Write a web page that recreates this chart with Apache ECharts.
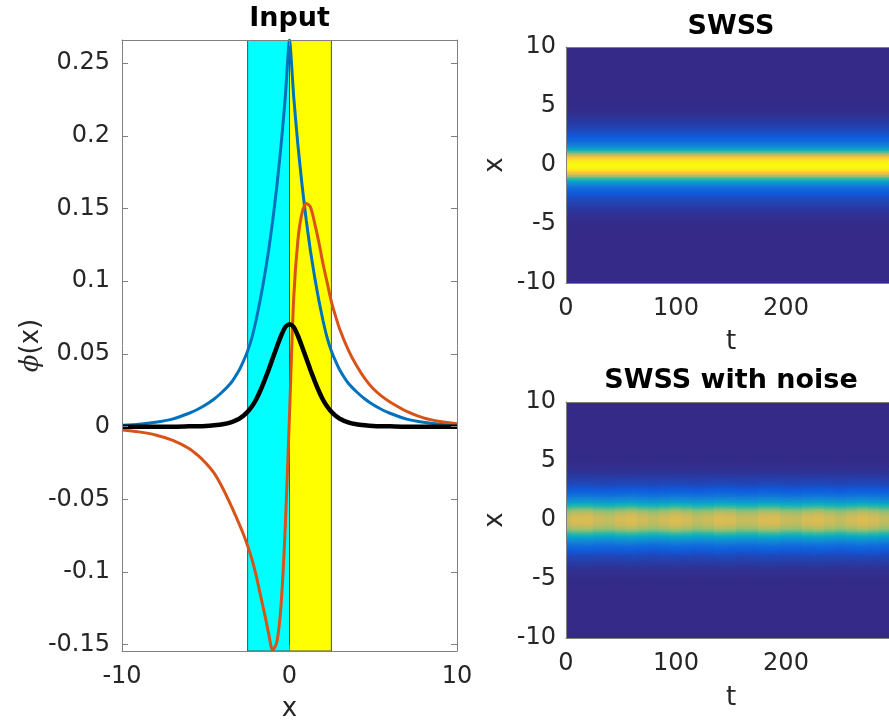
<!DOCTYPE html>
<html>
<head>
<meta charset="utf-8">
<script src="https://cdn.jsdelivr.net/npm/echarts@6/dist/echarts.min.js"></script>
<style>
html,body{margin:0;padding:0;background:#fff;}
#chart{width:889px;height:725px;}
</style>
</head>
<body>
<div id="chart"></div>
<script>
// ---------- Left panel: Input ----------
const xs = [-10,-9,-8,-7,-6,-5.5,-5,-4.5,-4,-3.5,-3,-2.75,-2.5,-2.25,-2,-1.75,-1.5,-1.25,-1,-0.75,-0.5,-0.25,0,0.25,0.5,0.75,1,1.25,1.5,1.75,2,2.25,2.5,2.75,3,3.5,4,4.5,5,5.5,6,7,8,9,10];
const blueVals = [0.001,0.0017,0.003,0.0052,0.0092,0.0118,0.015,0.019,0.024,0.030,0.039,0.045,0.052,0.061,0.073,0.087,0.103,0.121,0.142,0.166,0.194,0.227,0.2659,0.227,0.194,0.166,0.142,0.121,0.103,0.087,0.073,0.061,0.052,0.045,0.039,0.030,0.024,0.019,0.015,0.0118,0.0092,0.0052,0.003,0.0017,0.001];
const redVals = [-0.0023,-0.0036,-0.0057,-0.0093,-0.015,-0.0195,-0.025,-0.032,-0.042,-0.054,-0.067,-0.074,-0.082,-0.091,-0.102,-0.115,-0.128,-0.142,-0.1536,-0.148,-0.122,-0.068,0.008,0.088,0.128,0.147,0.1535,0.151,0.140,0.127,0.112,0.099,0.086,0.076,0.067,0.053,0.042,0.033,0.026,0.021,0.017,0.0105,0.006,0.0035,0.002];
const blackVals = [0,0,0,0,0.0002,0.0003,0.0005,0.001,0.0017,0.003,0.0055,0.0075,0.0102,0.0138,0.0185,0.0245,0.0315,0.039,0.047,0.055,0.0625,0.0685,0.0705,0.0685,0.0625,0.055,0.047,0.039,0.0315,0.0245,0.0185,0.0138,0.0102,0.0075,0.0055,0.003,0.0017,0.001,0.0005,0.0003,0.0002,0,0,0,0];
const inputYTicks = [-0.15,-0.1,-0.05,0,0.05,0.1,0.15,0.2,0.25];
const inputXTicks = [-10,0,10];
const inputYRange = [-0.1543, 0.2659];
const regionStarts = [-2.5, 0];
const regionEnds = [0, 2.5];

// ---------- Right panels: heatmaps ----------
const heatX = [-10,-7,-6,-5,-4.5,-4,-3.5,-3,-2.75,-2.5,-2.25,-2,-1.75,-1.5,-1.25,-1,-0.75,-0.5,-0.25,0,0.25,0.5,0.75,1,1.25,1.5,1.75,2,2.25,2.5,2.75,3,3.5,4,4.5,5,6,7,10];
const swssProfile = [0,0,0.001,0.004,0.01,0.025,0.045,0.072,0.09,0.11,0.135,0.17,0.23,0.31,0.45,0.62,0.80,0.92,0.98,1.0,0.98,0.92,0.80,0.62,0.45,0.31,0.23,0.17,0.135,0.11,0.09,0.072,0.045,0.025,0.01,0.004,0.001,0,0];
const noiseProfile = [0,0,0.001,0.004,0.01,0.025,0.05,0.08,0.105,0.135,0.17,0.22,0.29,0.37,0.47,0.58,0.68,0.74,0.77,0.78,0.77,0.74,0.68,0.58,0.47,0.37,0.29,0.22,0.17,0.135,0.105,0.08,0.05,0.025,0.01,0.004,0.001,0,0];
const tGrid = [0,10,20,30,40,50,60,70,80,90,100,110,120,130,140,150,160,170,180,190,200,210,220,230,240,250,260,270,280,290,300];
const noiseMod = [0.94,0.987,0.994,0.948,0.933,0.976,0.999,0.96,0.93,0.964,1.0,0.972,0.931,0.952,0.996,0.984,0.937,0.941,0.988,0.993,0.946,0.934,0.978,0.998,0.958,0.93,0.967,1.0,0.972,0.931,0.951];
const tRange = [0, 300];
const tTicks = [0, 100, 200];
const xRange = [-10, 10];

// ---------- styles ----------
const FONT = 'DejaVu Sans';
const TXT = '#262626';
const AX = '#808080';
const parulaStops = ['#352a87','#0f5cdd','#1481d6','#06a4ca','#2eb7a4','#87bf77','#d1bb59','#fec832','#f9fb0e'];

function hex2rgb(h){return [parseInt(h.slice(1,3),16),parseInt(h.slice(3,5),16),parseInt(h.slice(5,7),16)];}
const parulaRGB = parulaStops.map(hex2rgb);
function parula(v){
  v = Math.max(0, Math.min(1, v));
  const n = parulaRGB.length - 1;
  const p = v * n;
  const i = Math.min(n - 1, Math.floor(p));
  const f = p - i;
  const a = parulaRGB[i], b = parulaRGB[i+1];
  return 'rgb(' + [0,1,2].map(k => Math.round(a[k] + (b[k]-a[k])*f)).join(',') + ')';
}

// heat cell data
const swssData = [];
for (let i = 0; i < heatX.length - 1; i++) {
  swssData.push([tRange[0], tRange[1], heatX[i], heatX[i+1], swssProfile[i], swssProfile[i+1]]);
}
const noiseData = [];
for (let j = 0; j < tGrid.length; j++) {
  const t0 = Math.max(tRange[0], tGrid[j] - 5), t1 = Math.min(tRange[1], tGrid[j] + 5);
  for (let i = 0; i < heatX.length - 1; i++) {
    noiseData.push([t0, t1, heatX[i], heatX[i+1], noiseProfile[i]*noiseMod[j], noiseProfile[i+1]*noiseMod[j]]);
  }
}

function renderHeat(params, api){
  const t0 = api.value(0), t1 = api.value(1), x0 = api.value(2), x1 = api.value(3);
  const v0 = api.value(4), v1 = api.value(5);
  const pTL = api.coord([t0, x1]);
  const pBR = api.coord([t1, x0]);
  const stops = [];
  for (let k = 0; k <= 6; k++) {
    const f = k / 6;
    stops.push({offset: f, color: parula(v1 + (v0 - v1) * f)});
  }
  const x = Math.floor(pTL[0]);
  const w = Math.ceil(pBR[0]) - x + 1;
  return {
    type: 'rect',
    shape: {x: x, y: pTL[1] - 0.5, width: w, height: pBR[1] - pTL[1] + 1},
    style: {fill: new echarts.graphic.LinearGradient(0, 0, 0, 1, stops)}
  };
}

function renderRegion(params, api){
  const x0 = api.value(0), x1 = api.value(1);
  const pTL = api.coord([x0, inputYRange[1]]);
  const pBR = api.coord([x1, inputYRange[0]]);
  return {
    type: 'rect',
    shape: {x: pTL[0], y: pTL[1], width: pBR[0] - pTL[0], height: pBR[1] - pTL[1]},
    style: {fill: params.dataIndex === 0 ? '#00ffff' : '#ffff00', stroke: '#4d4d4d', lineWidth: 1}
  };
}

const labelStyle = {color: TXT, fontFamily: FONT, fontSize: 24};
const nameStyle = {color: TXT, fontFamily: FONT, fontSize: 26};

function fmt(v){ return String(+(+v).toFixed(2)); }

const chart = echarts.init(document.getElementById('chart'), null, {renderer: 'canvas'});
const option = {
  animation: false,
  backgroundColor: '#ffffff',
  grid: [
    {left: 122, right: 432, top: 40, bottom: 74, outerBoundsMode: 'none', containLabel: false},
    {left: 566, right: -7, top: 47, bottom: 442, outerBoundsMode: 'none', containLabel: false},
    {left: 566, right: -7, top: 402, bottom: 87, outerBoundsMode: 'none', containLabel: false}
  ],
  xAxis: [
    {gridIndex: 0, type: 'value', min: -10, max: 10, interval: 10, position: 'bottom', z: 6,
     name: 'x', nameLocation: 'middle', nameGap: 45, nameTextStyle: nameStyle,
     axisLine: {onZero: false, lineStyle: {color: AX}}, splitLine: {show: false},
     axisTick: {inside: true, length: 6, lineStyle: {color: AX}, customValues: inputXTicks},
     axisLabel: Object.assign({margin: 14, customValues: inputXTicks}, labelStyle)},
    {gridIndex: 0, type: 'value', min: -10, max: 10, interval: 10, position: 'top', z: 6,
     axisLine: {onZero: false, lineStyle: {color: AX}}, splitLine: {show: false},
     axisTick: {inside: true, length: 6, lineStyle: {color: AX}}, axisLabel: {show: false}},
    {gridIndex: 1, type: 'value', min: tRange[0], max: tRange[1], position: 'bottom', z: 5,
     name: 't', nameLocation: 'middle', nameGap: 46, nameTextStyle: nameStyle,
     axisLine: {onZero: false, lineStyle: {color: AX}}, splitLine: {show: false},
     axisTick: {show: false}, axisLabel: Object.assign({margin: 14, customValues: tTicks}, labelStyle)},
    {gridIndex: 1, type: 'value', min: tRange[0], max: tRange[1], position: 'top', z: 5,
     axisLine: {onZero: false, lineStyle: {color: AX}}, splitLine: {show: false},
     axisTick: {show: false}, axisLabel: {show: false}},
    {gridIndex: 2, type: 'value', min: tRange[0], max: tRange[1], position: 'bottom', z: 5,
     name: 't', nameLocation: 'middle', nameGap: 47, nameTextStyle: nameStyle,
     axisLine: {onZero: false, lineStyle: {color: AX}}, splitLine: {show: false},
     axisTick: {show: false}, axisLabel: Object.assign({margin: 14, customValues: tTicks}, labelStyle)},
    {gridIndex: 2, type: 'value', min: tRange[0], max: tRange[1], position: 'top', z: 5,
     axisLine: {onZero: false, lineStyle: {color: AX}}, splitLine: {show: false},
     axisTick: {show: false}, axisLabel: {show: false}}
  ],
  yAxis: [
    {gridIndex: 0, type: 'value', min: inputYRange[0], max: inputYRange[1], position: 'left', z: 6,
     name: '{i|ϕ}(x)', nameLocation: 'middle', nameGap: 78,
     nameTextStyle: Object.assign({rich: {i: {fontFamily: 'DejaVu Serif', fontStyle: 'italic', fontSize: 26, color: TXT}}}, nameStyle),
     axisLine: {onZero: false, lineStyle: {color: AX}}, splitLine: {show: false},
     axisTick: {inside: true, length: 6, lineStyle: {color: AX}, customValues: inputYTicks},
     axisLabel: Object.assign({margin: 12, customValues: inputYTicks, formatter: fmt}, labelStyle)},
    {gridIndex: 0, type: 'value', min: inputYRange[0], max: inputYRange[1], position: 'right', z: 6,
     axisLine: {onZero: false, lineStyle: {color: AX}}, splitLine: {show: false},
     axisTick: {inside: true, length: 6, lineStyle: {color: AX}, customValues: inputYTicks},
     axisLabel: {show: false}},
    {gridIndex: 1, type: 'value', min: xRange[0], max: xRange[1], interval: 5, position: 'left', z: 5,
     name: 'x', nameLocation: 'middle', nameGap: 58, nameTextStyle: nameStyle,
     axisLine: {onZero: false, lineStyle: {color: AX}}, splitLine: {show: false},
     axisTick: {show: false}, axisLabel: Object.assign({margin: 10}, labelStyle)},
    {gridIndex: 2, type: 'value', min: xRange[0], max: xRange[1], interval: 5, position: 'left', z: 5,
     name: 'x', nameLocation: 'middle', nameGap: 58, nameTextStyle: nameStyle,
     axisLine: {onZero: false, lineStyle: {color: AX}}, splitLine: {show: false},
     axisTick: {show: false}, axisLabel: Object.assign({margin: 10}, labelStyle)}
  ],
  graphic: [
    {type: 'text', x: 289.5, y: 19, style: {text: 'Input', font: 'bold 27px "DejaVu Sans"', fill: '#000', align: 'center', verticalAlign: 'middle'}},
    {type: 'text', x: 731, y: 27, style: {text: 'SWSS', font: 'bold 27px "DejaVu Sans"', fill: '#000', align: 'center', verticalAlign: 'middle'}},
    {type: 'text', x: 731, y: 381, style: {text: 'SWSS with noise', font: 'bold 27px "DejaVu Sans"', fill: '#000', align: 'center', verticalAlign: 'middle'}}
  ],
  series: [
    {type: 'custom', xAxisIndex: 0, yAxisIndex: 0, z: 1, clip: true,
     data: regionStarts.map((s, i) => [s, regionEnds[i]]), encode: {x: [0, 1]},
     renderItem: renderRegion, silent: true},
    {type: 'line', xAxisIndex: 0, yAxisIndex: 0, z: 3, data: xs.map((x, i) => [x, blueVals[i]]),
     showSymbol: false, smooth: 0.2, lineStyle: {color: '#0072bd', width: 3}, clip: true},
    {type: 'line', xAxisIndex: 0, yAxisIndex: 0, z: 4, data: xs.map((x, i) => [x, redVals[i]]),
     showSymbol: false, smooth: 0.3, lineStyle: {color: '#d95319', width: 3}, clip: true},
    {type: 'line', xAxisIndex: 0, yAxisIndex: 0, z: 5, data: xs.map((x, i) => [x, blackVals[i]]),
     showSymbol: false, smooth: 0.25, lineStyle: {color: '#000000', width: 4.5}, clip: true},
    {type: 'custom', xAxisIndex: 2, yAxisIndex: 2, z: 2, clip: true, data: swssData,
     encode: {x: [0, 1], y: [2, 3]}, renderItem: renderHeat, silent: true},
    {type: 'custom', xAxisIndex: 4, yAxisIndex: 3, z: 2, clip: true, data: noiseData,
     encode: {x: [0, 1], y: [2, 3]}, renderItem: renderHeat, silent: true}
  ]
};
chart.setOption(option);
</script>
</body>
</html>
